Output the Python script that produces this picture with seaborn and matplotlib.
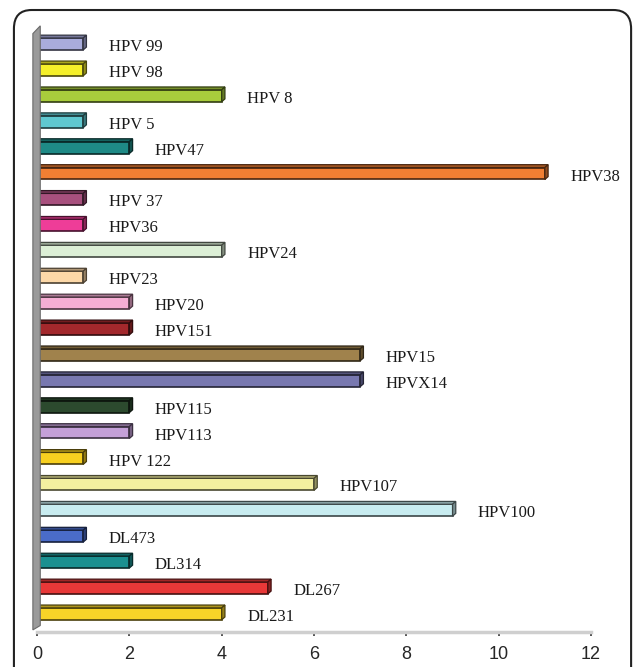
import numpy as np
import pandas as pd
import matplotlib
matplotlib.use('Agg')
import matplotlib.pyplot as plt
import matplotlib.colors as mcolors
from matplotlib.patches import Polygon, FancyBboxPatch
import seaborn as sns

# ---- data (top to bottom) ----
types = ['HPV 99', 'HPV 98', 'HPV 8', 'HPV 5', 'HPV47', 'HPV38', 'HPV 37', 'HPV36',
         'HPV24', 'HPV23', 'HPV20', 'HPV151', 'HPV15', 'HPVX14', 'HPV115', 'HPV113',
         'HPV 122', 'HPV107', 'HPV100', 'DL473', 'DL314', 'DL267', 'DL231']
counts = [1, 1, 4, 1, 2, 11, 1, 1, 4, 1, 2, 2, 7, 7, 2, 2, 1, 6, 9, 1, 2, 5, 4]
bar_colors = ['#a9acdc', '#f5f02a', '#a8cc3c', '#5fc8d0', '#1e8a86', '#f27f33',
              '#a8507e', '#ee3d98', '#dcefd6', '#fcd8a8', '#f5aed4', '#a3282c',
              '#a0824c', '#7878b0', '#2c4a2e', '#c4a0d8', '#f8d020', '#f4f0a0',
              '#c8ecf0', '#4a6cc8', '#1a9090', '#e83838', '#f8d428']
xticks = [0, 2, 4, 6, 8, 10, 12]

df = pd.DataFrame({'type': types, 'count': counts})

sns.set_style('white')

fig = plt.figure(figsize=(6.33, 6.67), dpi=100)
ax = fig.add_axes([0.0585, 0.0525, 0.8752, 0.901])

sns.barplot(data=df, x='count', y='type', hue='type', palette=bar_colors,
            order=types, hue_order=types, dodge=False, legend=False, saturation=1,
            orient='h', width=0.46, linewidth=1.2, ax=ax)

ax.set_xlim(0, 12)
ax.set_ylim(22.7, -0.5)

def darker(c, f=0.45):
    r, g, b = mcolors.to_rgb(c)
    return (r * f, g * f, b * f)

# fake 3D: top and side faces on every bar
dx, dy = 0.07, 0.11
for p in list(ax.patches):
    fc = p.get_facecolor()
    x0, y0 = p.get_x(), p.get_y()
    w, h = p.get_width(), p.get_height()
    p.set_edgecolor(darker(fc, 0.3))
    top = Polygon([(x0, y0), (x0 + dx, y0 - dy), (x0 + w + dx, y0 - dy), (x0 + w, y0)],
                  closed=True, facecolor=darker(fc, 0.7), edgecolor=darker(fc, 0.3),
                  lw=0.9, zorder=p.get_zorder())
    side = Polygon([(x0 + w, y0), (x0 + w + dx, y0 - dy), (x0 + w + dx, y0 + h - dy), (x0 + w, y0 + h)],
                   closed=True, facecolor=darker(fc, 0.6), edgecolor=darker(fc, 0.3),
                   lw=0.9, zorder=p.get_zorder())
    ax.add_patch(top)
    ax.add_patch(side)

# labels next to the bars
for i, (t, v) in enumerate(zip(types, counts)):
    ax.text(v + 0.55, i + 0.12, t, ha='left', va='center', fontsize=12,
            family='Liberation Serif', color='#1a1a1a')

# grey back wall at x=0
wall = Polygon([(-0.09, 22.62), (-0.09, -0.4), (0.07, -0.7), (0.07, 22.45)],
               closed=True, facecolor='#9a9a9a', edgecolor='#6a6a6a', lw=0.8,
               clip_on=False, zorder=1)
ax.add_patch(wall)

ax.set_xticks(xticks)
ax.set_xticklabels([str(t) for t in xticks], fontsize=13, family='Liberation Sans')
ax.set_yticks([])
ax.set_xlabel('')
ax.set_ylabel('')
for s in ['top', 'right', 'left']:
    ax.spines[s].set_visible(False)
ax.spines['bottom'].set_color('#cfcfcf')
ax.spines['bottom'].set_linewidth(2.5)
ax.tick_params(axis='x', bottom=True, length=3, width=1.3, color='#444444', pad=7)

# rounded frame around the panel
frame = FancyBboxPatch((0.022, -0.05), 0.975, 1.035, boxstyle='round,pad=0,rounding_size=0.028',
                       transform=fig.transFigure, facecolor='none', edgecolor='#222222',
                       lw=1.5)
fig.add_artist(frame)

fig.savefig('out.png', dpi=100)
